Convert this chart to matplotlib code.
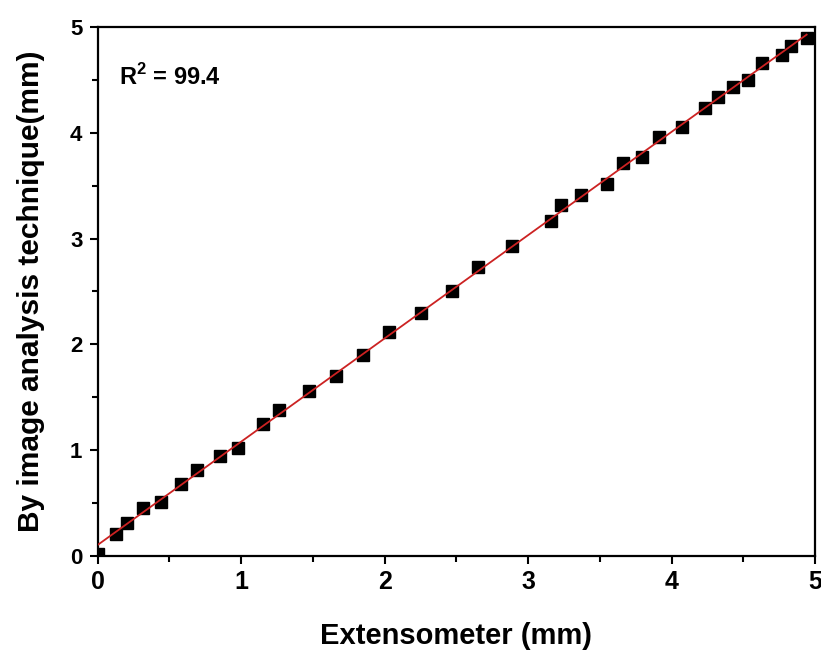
import numpy as np
import matplotlib.pyplot as plt
from matplotlib.ticker import MultipleLocator

# Extensometer reading vs. image-analysis measurement (mm)
extensometer = [0.00, 0.125, 0.207, 0.316, 0.44, 0.58, 0.69, 0.85, 0.98, 1.15,
                1.26, 1.47, 1.66, 1.85, 2.03, 2.25, 2.47, 2.65, 2.89, 3.16,
                3.23, 3.37, 3.55, 3.66, 3.79, 3.91, 4.07, 4.23, 4.32, 4.43,
                4.53, 4.63, 4.77, 4.83, 4.94]
image_analysis = [0.02, 0.21, 0.31, 0.45, 0.515, 0.68, 0.81, 0.95, 1.02, 1.245,
                  1.38, 1.56, 1.70, 1.90, 2.115, 2.295, 2.50, 2.73, 2.93, 3.17,
                  3.32, 3.41, 3.52, 3.71, 3.77, 3.96, 4.05, 4.23, 4.34, 4.43,
                  4.50, 4.66, 4.73, 4.82, 4.89]
r2_label = "R$^\\mathbf{2}$ = 99.4"

plt.rcParams['font.family'] = ['Liberation Sans', 'DejaVu Sans']
plt.rcParams['font.weight'] = 'bold'
plt.rcParams['mathtext.fontset'] = 'custom'
plt.rcParams['mathtext.bf'] = 'Liberation Sans:bold'
plt.rcParams['mathtext.rm'] = 'Liberation Sans:bold'

fig = plt.figure(figsize=(8.21, 6.55), dpi=100)
ax = fig.add_axes([0.119, 0.151, 0.874, 0.808])

x = np.array(extensometer)
y = np.array(image_analysis)
slope, intercept = np.polyfit(x, y, 1)
xfit = np.array([0.0, x.max()])

ax.plot(x, y, linestyle='none', marker='s', markersize=8.5, color='black', zorder=3)
ax.plot(xfit, slope * xfit + intercept, color='#cc2222', linewidth=1.3, zorder=4)

ax.set_xlim(0, 5)
ax.set_ylim(0, 5)
ax.xaxis.set_major_locator(MultipleLocator(1))
ax.xaxis.set_minor_locator(MultipleLocator(0.5))
ax.yaxis.set_major_locator(MultipleLocator(1))
ax.yaxis.set_minor_locator(MultipleLocator(0.5))

for s in ax.spines.values():
    s.set_linewidth(1.6)
ax.tick_params(which='major', direction='out', length=6, width=1.5,
               top=False, right=False)
ax.tick_params(which='minor', direction='out', length=4, width=1.5,
               top=False, right=False)
ax.tick_params(axis='x', labelsize=18, pad=4)
ax.tick_params(axis='y', labelsize=16, pad=5)
for lbl in ax.get_xticklabels() + ax.get_yticklabels():
    lbl.set_fontweight('bold')

ax.set_xlabel('Extensometer (mm)', fontsize=21, fontweight='bold', labelpad=20)
ax.set_ylabel('By image analysis technique(mm)', fontsize=21.5, fontweight='bold',
              labelpad=18)

ax.text(0.03, 0.905, r2_label, transform=ax.transAxes, fontsize=17,
        fontweight='bold', va='center', ha='left')

fig.savefig('out.png', dpi=100)
